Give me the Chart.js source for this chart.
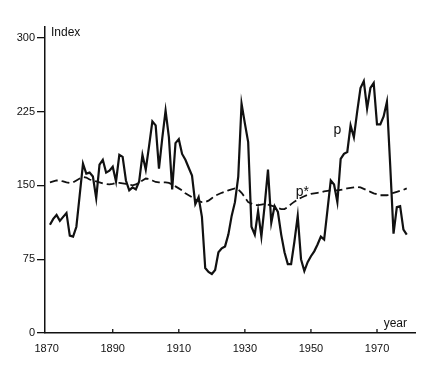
<!DOCTYPE html>
<html>
<head>
<meta charset="utf-8">
<script src="https://cdn.jsdelivr.net/npm/chart.js@4/dist/chart.umd.min.js"></script>
<style>
html,body{margin:0;padding:0;background:#fff;}
#wrap{width:437px;height:366px;position:relative;}
</style>
</head>
<body>
<div id="wrap"><canvas id="c" width="437" height="366"></canvas></div>
<script>
const years = [1871,1872,1873,1874,1875,1876,1877,1878,1879,1880,
1881,1882,1883,1884,1885,1886,1887,1888,1889,1890,
1891,1892,1893,1894,1895,1896,1897,1898,1899,1900,
1901,1902,1903,1904,1905,1906,1907,1908,1909,1910,
1911,1912,1913,1914,1915,1916,1917,1918,1919,1920,
1921,1922,1923,1924,1925,1926,1927,1928,1929,1930,
1931,1932,1933,1934,1935,1936,1937,1938,1939,1940,
1941,1942,1943,1944,1945,1946,1947,1948,1949,1950,
1951,1952,1953,1954,1955,1956,1957,1958,1959,1960,
1961,1962,1963,1964,1965,1966,1967,1968,1969,1970,
1971,1972,1973,1974,1975,1976,1977,1978,1979];

// p : real stock price index
const pValues = [110,116,120,114,118,122,99,98,108,140,
172,162,163,159,137,171,176,163,165,169,
154,181,179,155,145,148,146,154,181,166,
190,215,211,167,198,226,199,146,193,197,
182,176,168,160,131,138,118,66,62,60,
64,82,86,88,100,119,133,159,233,213,
194,108,100,124,98,130,166,112,129,123,
100,82,70,70,93,119,75,63,72,78,
83,90,98,95,125,155,151,133,177,182,
184,211,199,225,249,256,228,249,254,212,
212,220,235,170,101,128,129,105,100];

// p* : ex post rational price
const pStarValues = [153,154,155,155,154,153,152.5,153,155,157,
158.5,158,156,155,154,153,152,151.5,151,151.5,
152.5,152.5,152,151.5,151,150,151,153,155,157,
156.5,155,153.5,153,153,153,152.5,151,149,147,
145,142,140,138,135.5,134,133,133,134.5,137,
139.5,141,142.5,143.5,145,146,147,146,142.5,138,
133,131.5,130,130,130.5,131,130.5,129.5,128.5,127,
126,126,128,131,133.5,135.5,137.5,139,140.5,141.5,
142,142.5,143,144,144.5,145,145,145,145.5,146,
147,147.5,148,148.5,148,146.5,145,143.5,142,141,
140,140,140,141,142.5,143.5,144.5,145.5,147];

const xTicks = [1870,1890,1910,1930,1950,1970];
const yTicks = [0,75,150,225,300];
const yAxisTitle = "Index";
const xAxisTitle = "year";
const seriesLabels = ["p","p*"];
const labelAnchors = [[1958,206],[1947.4,143.3]];

const ink = '#111';
const fontFam = '"Liberation Sans", Arial, sans-serif';

const decor = {
  id:'decor',
  afterDraw(chart){
    const {ctx, chartArea:a, scales:{x,y}} = chart;
    ctx.save();
    ctx.strokeStyle = ink; ctx.lineWidth = 1.3;
    x.ticks.forEach(t=>{
      const px = x.getPixelForValue(t.value);
      if (px <= a.left + 2) return;
      ctx.beginPath(); ctx.moveTo(px, a.bottom); ctx.lineTo(px, a.bottom - 4); ctx.stroke();
    });
    ctx.fillStyle = ink;
    ctx.textBaseline = 'middle';
    ctx.font = '12px ' + fontFam;
    ctx.textAlign = 'left';
    ctx.fillText(yAxisTitle, a.left + 6, a.top + 6);
    ctx.textAlign = 'right';
    ctx.fillText(xAxisTitle, a.right - 8, a.bottom - 9);
    ctx.font = '14px ' + fontFam;
    ctx.textAlign = 'center';
    seriesLabels.forEach((s,i)=>{
      ctx.fillText(s, x.getPixelForValue(labelAnchors[i][0]), y.getPixelForValue(labelAnchors[i][1]));
    });
    ctx.restore();
  }
};

new Chart(document.getElementById('c'), {
  type:'line',
  data:{
    datasets:[
      {label:'p', data: years.map((yr,i)=>({x:yr, y:pValues[i]})),
       borderColor:ink, borderWidth:2.2, pointRadius:0, tension:0, fill:false},
      {label:'p*', data: years.map((yr,i)=>({x:yr, y:pStarValues[i]})),
       borderColor:ink, borderWidth:1.8, borderDash:[8,4], pointRadius:0, tension:0, fill:false}
    ]
  },
  options:{
    responsive:false,
    animation:false,
    layout:{padding:{top:27,right:22,left:0,bottom:0}},
    plugins:{legend:{display:false}, tooltip:{enabled:false}},
    scales:{
      x:{
        type:'linear', min:1869.5, max:1981.5,
        afterBuildTicks(s){ s.ticks = xTicks.map(v=>({value:v})); },
        afterFit(s){ s.height = 33; },
        grid:{drawOnChartArea:false, drawTicks:false},
        border:{color:ink, width:1.5},
        ticks:{color:ink, padding:9, maxRotation:0, autoSkip:false,
               font:{family:fontFam, size:11}, callback:v=>String(v)}
      },
      y:{
        min:0, max:311,
        afterBuildTicks(s){ s.ticks = yTicks.map(v=>({value:v})); },
        afterFit(s){ s.width = 45; },
        grid:{drawOnChartArea:false, tickLength:8, color:ink, lineWidth:1.3},
        border:{color:ink, width:1.5},
        ticks:{color:ink, padding:2, autoSkip:false,
               font:{family:fontFam, size:11}, callback:v=>String(v)}
      }
    }
  },
  plugins:[decor]
});
</script>
</body>
</html>
